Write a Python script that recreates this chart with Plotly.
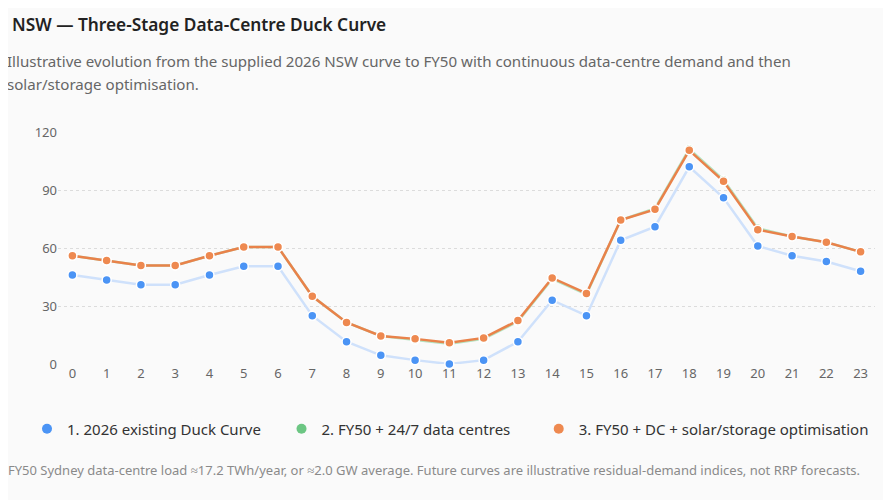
import plotly.graph_objects as go

hours = list(range(24))
hour_labels = [str(h) for h in hours]
y_ticks = [0, 30, 60, 90, 120]

curve_2026 = [46, 43.5, 41, 41, 46, 50.5, 50.5, 25, 11.5, 4.5, 2, 0,
              2, 11.5, 33, 25, 64, 71, 102, 86, 61, 56, 53, 48]
curve_fy50_dc = [56, 53.5, 51, 51, 56, 60.5, 60.5, 35, 21.5, 14.5, 12.5, 10.5,
                 13, 22, 44, 36, 74.5, 80.5, 111.2, 95.2, 70.2, 66, 63, 58]
curve_fy50_opt = [56, 53.5, 51, 51, 56, 60.5, 60.5, 35, 21.5, 14.5, 13, 11,
                  13.5, 22.5, 44.5, 36.5, 74.5, 80, 110.5, 94.5, 69.5, 66, 63, 58]

names = ["1. 2026 existing Duck Curve", "2. FY50 + 24/7 data centres",
         "3. FY50 + DC + solar/storage optimisation"]
name_pad = [4, 6, 0]  # trailing non-breaking spaces for legend spacing
marker_colors = ["#4b94f5", "#6cc683", "#ee8950"]
line_colors = ["#cfe1fb", "#b5e3c0", "#e9824a"]
series = [curve_2026, curve_fy50_dc, curve_fy50_opt]

FONT = "Noto Sans"
PL, PT, PW, PH = 58, 132, 817, 232  # plot area in page pixels

def px(x):
    return (x - PL) / PW

def py(y):
    return 1 - (y - PT) / PH

fig = go.Figure()
for vals, mc, lc in zip(series, marker_colors, line_colors):
    fig.add_trace(go.Scatter(
        x=hours, y=vals, mode="lines+markers", showlegend=False,
        line=dict(color=lc, width=2.5),
        marker=dict(color=mc, size=9, line=dict(color="white", width=1.5)),
        cliponaxis=False, hoverinfo="skip"))
for name, pad, mc in zip(names, name_pad, marker_colors):
    fig.add_trace(go.Scatter(
        x=[None], y=[None], mode="markers", name=name + "\u00a0" * pad,
        marker=dict(color=mc, size=10)))

fig.update_layout(
    width=891, height=500,
    paper_bgcolor="#fafafa", plot_bgcolor="#fafafa",
    margin=dict(l=50, r=24, t=124, b=144),
    font=dict(family=FONT, color="#555"),
    showlegend=True,
    legend=dict(orientation="h", x=px(27), xanchor="left", y=py(429), yanchor="middle",
                font=dict(size=15, color="#333", family=FONT),
                itemwidth=30, bgcolor="rgba(0,0,0,0)"),
    xaxis=dict(range=[-0.42, 23.42], tickmode="array", tickvals=hours, ticktext=hour_labels,
               showgrid=False, zeroline=False, showline=False,
               tickfont=dict(size=13, color="#666"), ticks="", ticklen=0),
    yaxis=dict(range=[0, 120], tickmode="array", tickvals=y_ticks,
               showgrid=True, gridcolor="#dcdcdc", griddash="dot", gridwidth=1,
               zeroline=False, showline=False,
               tickfont=dict(size=13, color="#666"), ticks="", ticklen=0),
    annotations=[
        dict(text="NSW — Three-Stage Data-Centre Duck Curve", xref="paper", yref="paper",
             x=px(10), y=py(25), xanchor="left", yanchor="middle",
             showarrow=False, font=dict(size=17.3, color="#222", family=FONT, weight=600)),
        dict(text="Illustrative evolution from the supplied 2026 NSW curve to FY50 with continuous data-centre demand and then",
             xref="paper", yref="paper", x=px(5), y=py(61),
             xanchor="left", yanchor="middle", align="left", showarrow=False,
             font=dict(size=15.1, color="#666", family=FONT)),
        dict(text="solar/storage optimisation.",
             xref="paper", yref="paper", x=px(5), y=py(84),
             xanchor="left", yanchor="middle", align="left", showarrow=False,
             font=dict(size=15.1, color="#666", family=FONT)),
        dict(text="FY50 Sydney data-centre load ≈17.2 TWh/year, or ≈2.0 GW average. Future curves are illustrative residual-demand indices, not RRP forecasts.",
             xref="paper", yref="paper", x=px(6), y=py(470),
             xanchor="left", yanchor="middle", showarrow=False,
             font=dict(size=13, color="#8a8a8a", family=FONT)),
    ],
)

fig.write_html("out.html")
